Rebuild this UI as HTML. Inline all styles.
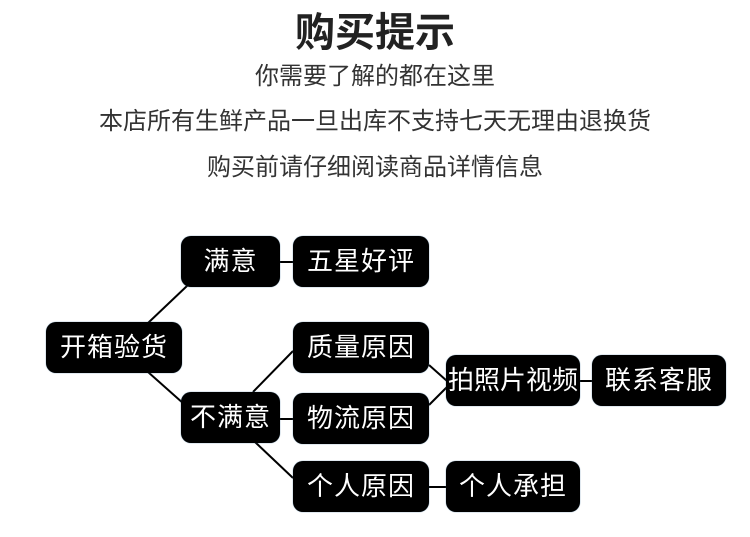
<!DOCTYPE html>
<html><head><meta charset="utf-8"><style>
body{margin:0;width:750px;height:537px;background:#fff;position:relative;overflow:hidden;font-family:"Liberation Sans","Noto Sans CJK SC",sans-serif}
.t{position:absolute;left:0;width:750px;text-align:center;color:#333;white-space:nowrap}
.b{position:absolute;background:#000;color:#fff;border-radius:10px;height:51px;line-height:51px;text-align:center;font-size:26px;letter-spacing:1px;box-shadow:0 0 1px #3a6f9a;white-space:nowrap}
svg{position:absolute;left:0;top:0}
</style></head><body>
<div class="t" style="top:0px;font-size:40px;font-weight:bold;color:#222">购买提示</div>
<div class="t" style="top:56px;font-size:24px">你需要了解的都在这里</div>
<div class="t" style="top:101px;font-size:24px">本店所有生鲜产品一旦出库不支持七天无理由退换货</div>
<div class="t" style="top:147px;font-size:24px">购买前请仔细阅读商品详情信息</div>
<svg width="750" height="537"><g stroke="#000" stroke-width="2">
<line x1="148" y1="323" x2="188" y2="285"/>
<line x1="148" y1="372" x2="184" y2="404"/>
<line x1="280" y1="262" x2="293" y2="262"/>
<line x1="253" y1="392" x2="293" y2="351"/>
<line x1="280" y1="419" x2="293" y2="419"/>
<line x1="255" y1="442" x2="293" y2="478"/>
<line x1="429" y1="365" x2="447" y2="381"/>
<line x1="429" y1="405" x2="447" y2="387"/>
<line x1="580" y1="381" x2="592" y2="381"/>
<line x1="429" y1="487" x2="446" y2="487"/>
</g></svg>
<div class="b" style="left:46px;top:322px;width:136px">开箱验货</div>
<div class="b" style="left:181px;top:236px;width:99px">满意</div>
<div class="b" style="left:293px;top:236px;width:136px">五星好评</div>
<div class="b" style="left:181px;top:392px;width:99px">不满意</div>
<div class="b" style="left:293px;top:322px;width:136px">质量原因</div>
<div class="b" style="left:293px;top:393px;width:136px">物流原因</div>
<div class="b" style="left:293px;top:461px;width:136px">个人原因</div>
<div class="b" style="left:446px;top:355px;width:134px;letter-spacing:0">拍照片视频</div>
<div class="b" style="left:592px;top:355px;width:134px">联系客服</div>
<div class="b" style="left:446px;top:461px;width:134px">个人承担</div>
</body></html>
